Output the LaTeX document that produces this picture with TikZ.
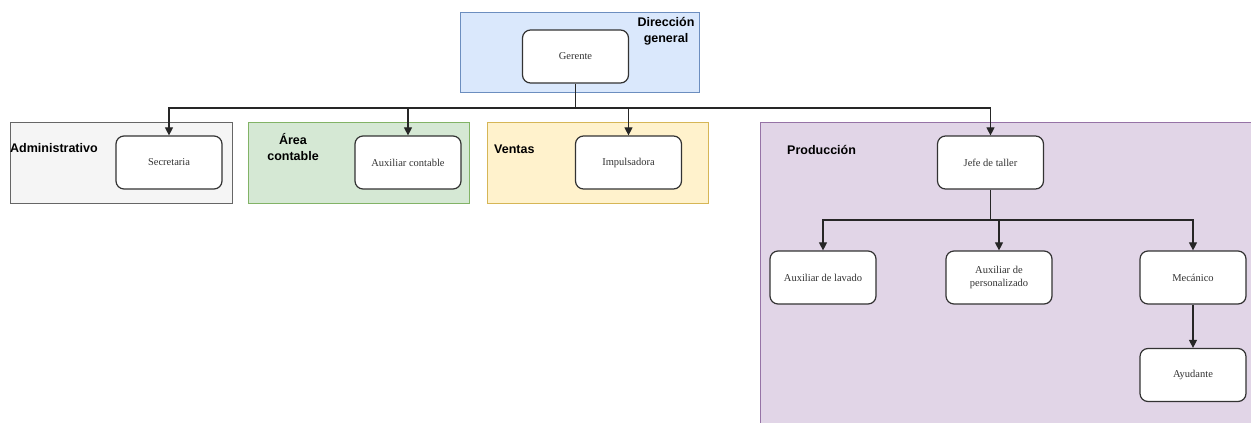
\documentclass[tikz,border=0pt]{standalone}
\usepackage{fontspec}
\setmainfont{Liberation Serif}
\newfontfamily\grpfont{Liberation Sans}
\usepackage{tikz}
\usetikzlibrary{arrows.meta,positioning}
\definecolor{dirfill}{HTML}{DAE8FC}\definecolor{dirline}{HTML}{6C8EBF}
\definecolor{admfill}{HTML}{F5F5F5}\definecolor{admline}{HTML}{666666}
\definecolor{confill}{HTML}{D5E8D4}\definecolor{conline}{HTML}{82B366}
\definecolor{venfill}{HTML}{FFF2CC}\definecolor{venline}{HTML}{D6B656}
\definecolor{profill}{HTML}{E1D5E7}\definecolor{proline}{HTML}{9673A6}
\definecolor{txtgrey}{HTML}{333333}

\begin{document}
\begin{tikzpicture}[x=1pt,y=-1pt,>={Triangle[length=8pt,width=8pt]},
  area/.style={draw,line width=0.9pt,inner sep=0pt,anchor=north west},
  cargo/.style={draw=txtgrey,fill=white,rounded corners=8pt,line width=1.2pt,
    minimum width=106pt,minimum height=53pt,align=center,inner sep=2pt,
    font=\fontsize{10.5}{12.5}\selectfont,text=txtgrey},
  titulo/.style={font=\grpfont\bfseries\fontsize{12.5}{16}\selectfont,align=center,inner sep=0pt},
  enlace/.style={->,line width=1.1pt,draw=black!85}]
  \clip (0,0) rectangle (1251,423);
  % areas
  \node[area,fill=dirfill,draw=dirline,minimum width=239pt,minimum height=80pt] (dir) at (460,12) {};
  \node[area,fill=admfill,draw=admline,minimum width=222pt,minimum height=81pt] (adm) at (10,122) {};
  \node[area,fill=confill,draw=conline,minimum width=221pt,minimum height=81pt] (con) at (248,122) {};
  \node[area,fill=venfill,draw=venline,minimum width=221pt,minimum height=81pt] (ven) at (487,122) {};
  \node[area,fill=profill,draw=proline,minimum width=500pt,minimum height=310pt] (pro) at (760,122) {};
  \node[titulo] (tdir) at (666,31) {Dirección\\general};
  \node[titulo,anchor=west] (tadm) at (10,148) {Administrativo};
  \node[titulo] (tcon) at (293,147) {Área\\contable};
  \node[titulo,anchor=west] (tven) at (494,149) {Ventas};
  \node[titulo,anchor=west] (tpro) at (787,150) {Producción};
  % cargos
  \node[cargo] (ger) at (575.5,56.5) {Gerente};
  \node[cargo] (sec) at (169,162.5) {Secretaria};
  \node[cargo] (aux) at (408,162.5) {Auxiliar contable};
  \node[cargo] (imp) at (628.5,162.5) {Impulsadora};
  \node[cargo] (jef) at (990.5,162.5) {Jefe de taller};
  \node[cargo] (lav) at (823,277.5) {Auxiliar de lavado};
  \node[cargo] (per) at (999,277.5) {Auxiliar de\\personalizado};
  \node[cargo] (mec) at (1193,277.5) {Mecánico};
  \node[cargo] (ayu) at (1193,375) {Ayudante};
  \coordinate (bus) at (575.5,108);
  \coordinate (bus2) at (990.5,220);
  \draw[enlace] (ger) -- (bus) -| (sec);
  \draw[enlace] (bus) -| (aux);
  \draw[enlace] (bus) -| (imp);
  \draw[enlace] (bus) -| (jef);
  \draw[enlace] (jef) -- (bus2) -| (lav);
  \draw[enlace] (bus2) -| (per);
  \draw[enlace] (bus2) -| (mec);
  \draw[enlace] (mec) -- (ayu);
\end{tikzpicture}
\end{document}
